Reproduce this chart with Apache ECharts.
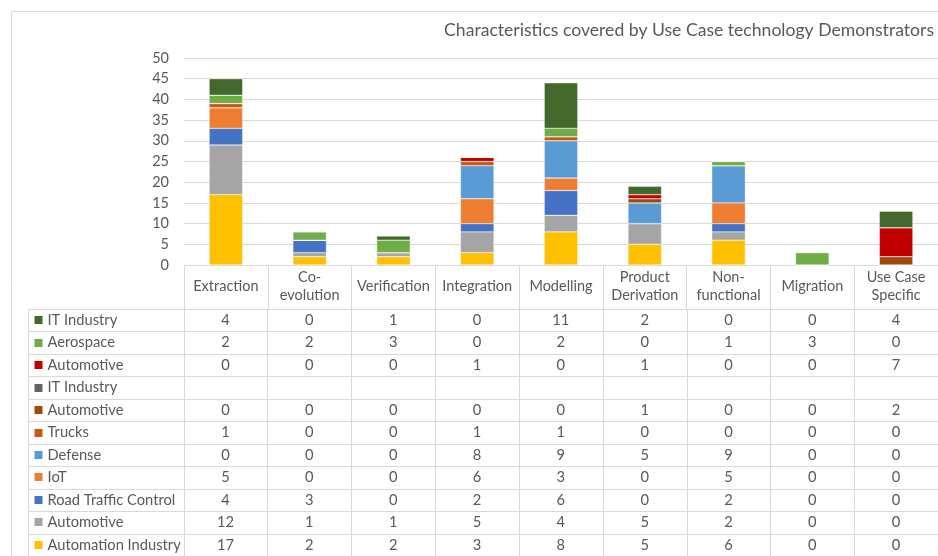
<!DOCTYPE html>
<html>
<head>
<meta charset="utf-8">
<script src="https://cdn.jsdelivr.net/npm/echarts@6/dist/echarts.min.js"></script>
<style>
html,body{margin:0;padding:0;background:#fff;}
#chart{width:938px;height:556px;}
</style>
</head>
<body>
<div id="chart"></div>
<script>
// ---- data ----
const titleText = 'Characteristics covered by Use Case technology Demonstrators';
const categories = ['Extraction', 'Co-\nevolution', 'Verification', 'Integration', 'Modelling', 'Product\nDerivation', 'Non-\nfunctional', 'Migration', 'Use Case\nSpecific'];
const yMin = 0, yMax = 50, yStep = 5;

// series (table order, top to bottom)
const itIndustry        = [4, 0, 1, 0, 11, 2, 0, 0, 4];
const aerospace         = [2, 2, 3, 0, 2, 0, 1, 3, 0];
const automotiveRed     = [0, 0, 0, 1, 0, 1, 0, 0, 7];
const itIndustryGray    = [null, null, null, null, null, null, null, null, null];
const automotiveBrown   = [0, 0, 0, 0, 0, 1, 0, 0, 2];
const trucks            = [1, 0, 0, 1, 1, 0, 0, 0, 0];
const defense           = [0, 0, 0, 8, 9, 5, 9, 0, 0];
const iot               = [5, 0, 0, 6, 3, 0, 5, 0, 0];
const roadTraffic       = [4, 3, 0, 2, 6, 0, 2, 0, 0];
const automotiveGray    = [12, 1, 1, 5, 4, 5, 2, 0, 0];
const automationIndustry= [17, 2, 2, 3, 8, 5, 6, 0, 0];

const seriesNames = ['IT Industry', 'Aerospace', 'Automotive', 'IT Industry', 'Automotive', 'Trucks', 'Defense', 'IoT', 'Road Traffic Control', 'Automotive', 'Automation Industry'];
const seriesValues = [itIndustry, aerospace, automotiveRed, itIndustryGray, automotiveBrown, trucks, defense, iot, roadTraffic, automotiveGray, automationIndustry];

// ---- styles ----
const seriesColors = ['#43682b', '#70ad47', '#c00000', '#636363', '#9e480e', '#c55a11', '#5b9bd5', '#ed7d31', '#4472c4', '#a5a5a5', '#ffc000'];
const FONT = 'Lato, "Open Sans", sans-serif';
const TXT = '#595959';
const LINE = '#d9d9d9';
const labelColUnits = 156 / 84;

// bars: stack bottom -> top is reverse of table order
const barSeries = [];
for (let i = seriesNames.length - 1; i >= 0; i--) {
  barSeries.push({
    type: 'bar',
    name: seriesNames[i],
    stack: 'total',
    xAxisIndex: 0, yAxisIndex: 0,
    barWidth: '40%',
    data: seriesValues[i],
    itemStyle: { color: seriesColors[i], borderColor: '#ffffff', borderWidth: 0.4 },
    emphasis: { disabled: true },
    silent: true
  });
}

// table cells built from data arrays
const tableCells = [];
seriesNames.forEach((name, r) => {
  tableCells.push({ col: -1, row: r, text: name, color: seriesColors[r] });
  categories.forEach((c, ci) => {
    const v = seriesValues[r][ci];
    tableCells.push({ col: ci, row: r, text: v == null ? '' : String(v), color: null });
  });
});

const option = {
  animation: false,
  backgroundColor: '#ffffff',
  title: {
    text: titleText, right: 4, top: 21, padding: 0,
    textStyle: { fontFamily: FONT, fontSize: 17.6, fontWeight: 'normal', color: TXT }
  },
  graphic: [{
    type: 'rect', shape: { x: 11.5, y: 11.5, width: 940, height: 560 },
    style: { fill: 'none', stroke: LINE, lineWidth: 1 }, silent: true, z: -1
  }],
  grid: [
    { left: 184, top: 58, width: 756, height: 207 },
    { left: 28, top: 309, width: 912, height: 250 }
  ],
  xAxis: [
    {
      type: 'category', gridIndex: 0, data: categories,
      axisLine: { show: true, lineStyle: { color: LINE } },
      axisTick: { show: true, length: 44, lineStyle: { color: LINE } },
      axisLabel: { color: TXT, fontFamily: FONT, fontSize: 14.5, lineHeight: 18, margin: 21, verticalAlign: 'middle', interval: 0 },
      splitLine: { show: false }
    },
    { type: 'value', gridIndex: 1, min: -labelColUnits, max: categories.length, show: false }
  ],
  yAxis: [
    {
      type: 'value', gridIndex: 0, min: yMin, max: yMax, interval: yStep,
      axisLine: { show: false }, axisTick: { show: false },
      axisLabel: { color: TXT, fontFamily: FONT, fontSize: 14.5, margin: 15 },
      splitLine: { show: true, lineStyle: { color: LINE } }
    },
    { type: 'value', gridIndex: 1, min: 0, max: seriesNames.length, inverse: true, show: false }
  ],
  series: barSeries.concat([{
    type: 'custom',
    xAxisIndex: 1, yAxisIndex: 1,
    silent: true,
    clip: false,
    data: tableCells.map(c => [c.col, c.row]),
    renderItem: function (params, api) {
      const cell = tableCells[params.dataIndex];
      const x0v = cell.col < 0 ? -labelColUnits : cell.col;
      const x1v = cell.col < 0 ? 0 : cell.col + 1;
      const p0 = api.coord([x0v, cell.row]);
      const p1 = api.coord([x1v, cell.row + 1]);
      const x0 = Math.round(p0[0]) + 0.5, y0 = Math.round(p0[1]) + 0.5;
      const x1 = Math.round(p1[0]) + 0.5, y1 = Math.round(p1[1]) + 0.5;
      const cy = (p0[1] + p1[1]) / 2;
      const children = [{
        type: 'rect', shape: { x: x0, y: y0, width: x1 - x0, height: y1 - y0 },
        style: { fill: 'none', stroke: LINE, lineWidth: 1 }
      }];
      if (cell.col < 0) {
        children.push({
          type: 'rect', shape: { x: x0 + 6, y: Math.round(cy) - 4, width: 8, height: 8 },
          style: { fill: cell.color }
        });
        children.push({
          type: 'text', x: x0 + 19, y: cy,
          style: { text: cell.text, fill: TXT, font: '14.7px ' + FONT, textAlign: 'left', textVerticalAlign: 'middle' }
        });
      } else {
        children.push({
          type: 'text', x: (p0[0] + p1[0]) / 2, y: cy,
          style: { text: cell.text, fill: TXT, font: '14.7px ' + FONT, textAlign: 'center', textVerticalAlign: 'middle' }
        });
      }
      return { type: 'group', children: children };
    }
  }])
};

const chart = echarts.init(document.getElementById('chart'), null, { renderer: 'canvas' });
chart.setOption(option);
</script>
</body>
</html>
